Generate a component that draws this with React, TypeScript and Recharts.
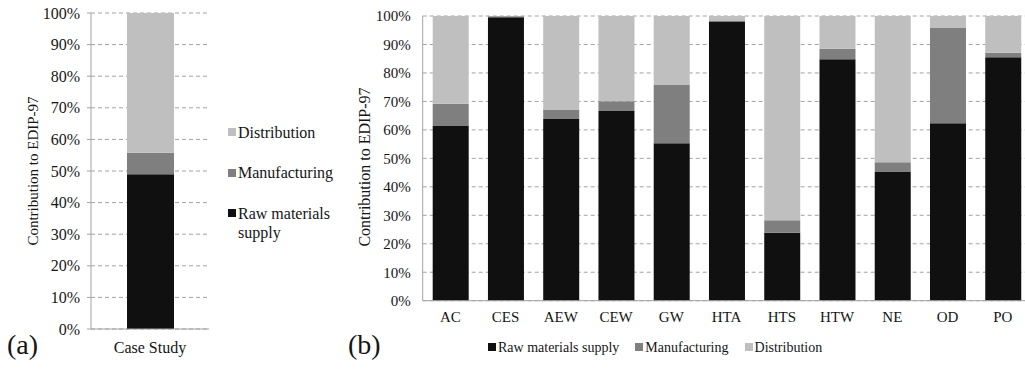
import React from "react";
import { BarChart, Bar, XAxis, YAxis, CartesianGrid, Legend } from "recharts";

const SERIES = ["Raw materials supply", "Manufacturing", "Distribution"];
const KEYS = ["raw", "manufacturing", "distribution"];
const COLORS = ["#101010", "#7f7f7f", "#bfbfbf"];
const Y_TICKS = [0, 10, 20, 30, 40, 50, 60, 70, 80, 90, 100];

// (a) case study
const caseCategories = ["Case Study"];
const caseRaw = [49.0];
const caseManufacturing = [6.8];
const caseDistribution = [44.2];

// (b) impact categories
const impactCategories = ["AC", "CES", "AEW", "CEW", "GW", "HTA", "HTS", "HTW", "NE", "OD", "PO"];
const impactRaw = [61.5, 99.6, 63.8, 66.6, 55.3, 97.9, 23.9, 84.8, 45.4, 62.3, 85.5];
const impactManufacturing = [7.7, 0.3, 3.4, 3.5, 20.6, 0.3, 4.4, 3.7, 3.2, 33.7, 1.6];
const impactDistribution = [30.8, 0.1, 32.8, 29.9, 24.1, 1.8, 71.7, 11.5, 51.4, 4.0, 12.9];

const FONT = "'Liberation Serif', 'Times New Roman', serif";
const AXIS_GRAY = "#a3a3a3";
const TEXT = "#151515";

const caseData = caseCategories.map((name, i) => ({
  name,
  raw: caseRaw[i],
  manufacturing: caseManufacturing[i],
  distribution: caseDistribution[i],
}));

const impactData = impactCategories.map((name, i) => ({
  name,
  raw: impactRaw[i],
  manufacturing: impactManufacturing[i],
  distribution: impactDistribution[i],
}));

const pct = (v: number) => `${v}%`;

const Swatch = ({ color }: { color: string }) => (
  <span
    style={{
      display: "inline-block",
      width: 8,
      height: 8,
      background: color,
      marginRight: 2,
      marginTop: 5.5,
      flex: "none",
    }}
  />
);

const VerticalLegend = () => (
  <div style={{ fontFamily: FONT, fontSize: 16, lineHeight: "19px", color: TEXT }}>
    {[2, 1, 0].map((k, i) => (
      <div key={k} style={{ display: "flex", alignItems: "flex-start", position: "absolute", top: i * 40.5, left: 0, width: 112 }}>
        <Swatch color={COLORS[k]} />
        <span style={{ width: 100 }}>{SERIES[k]}</span>
      </div>
    ))}
  </div>
);

const RowLegend = () => (
  <div style={{ display: "flex", fontFamily: FONT, fontSize: 14, lineHeight: "19px", color: TEXT, whiteSpace: "nowrap" }}>
    {[0, 1, 2].map((k) => (
      <div key={k} style={{ display: "flex", alignItems: "flex-start", marginRight: 16 }}>
        <Swatch color={COLORS[k]} />
        <span>{SERIES[k]}</span>
      </div>
    ))}
  </div>
);

const RotatedTitle = ({ x, y, size }: { x: number; y: number; size: number }) => (
  <div
    style={{
      position: "absolute",
      left: x,
      top: y,
      transform: "translate(-50%, -50%) rotate(-90deg)",
      fontFamily: FONT,
      fontSize: size,
      whiteSpace: "nowrap",
      color: TEXT,
    }}
  >
    Contribution to EDIP-97
  </div>
);

const PanelTag = ({ x, text }: { x: number; text: string }) => (
  <div
    style={{
      position: "absolute",
      left: x,
      top: 331,
      fontFamily: FONT,
      fontSize: 28,
      lineHeight: 1,
      color: TEXT,
    }}
  >
    {text}
  </div>
);

export default function App() {
  return (
    <div
      style={{
        position: "absolute",
        left: 0,
        top: 0,
        width: 1025,
        height: 371,
        overflow: "hidden",
        background: "#fff",
      }}
    >
      <div style={{ position: "absolute", left: 0, top: 0 }}>
        <BarChart width={340} height={371} data={caseData} margin={{ top: 13, right: 131, bottom: 12, left: 0 }}>
          <CartesianGrid vertical={false} stroke={AXIS_GRAY} strokeDasharray="4 3" />
          <XAxis
            dataKey="name"
            height={30}
            tickLine={false}
            tickMargin={6.6}
            axisLine={{ stroke: AXIS_GRAY }}
            tick={{ fontFamily: FONT, fontSize: 16, fill: TEXT }}
          />
          <YAxis
            width={91}
            domain={[0, 100]}
            ticks={Y_TICKS}
            tickFormatter={pct}
            tickSize={4}
            tickMargin={7}
            tickLine={{ stroke: AXIS_GRAY }}
            axisLine={{ stroke: AXIS_GRAY }}
            tick={{ fontFamily: FONT, fontSize: 16, fill: TEXT }}
          />
          <Legend
            layout="vertical"
            align="center"
            verticalAlign="middle"
            content={() => <VerticalLegend />}
            wrapperStyle={{ left: 228, top: 122.5, width: 112, height: 110 }}
          />
          {KEYS.map((k, i) => (
            <Bar key={k} dataKey={k} name={SERIES[i]} stackId="a" fill={COLORS[i]} barSize={47} isAnimationActive={false} />
          ))}
        </BarChart>
      </div>

      <div style={{ position: "absolute", left: 340, top: 0 }}>
        <BarChart width={700} height={371} data={impactData} margin={{ top: 16, right: 9.5, bottom: 40.3, left: 0 }}>
          <CartesianGrid vertical={false} stroke={AXIS_GRAY} strokeDasharray="4 3" />
          <XAxis
            dataKey="name"
            height={30}
            interval={0}
            tickLine={false}
            tickMargin={5}
            axisLine={{ stroke: AXIS_GRAY }}
            tick={{ fontFamily: FONT, fontSize: 15, fill: TEXT }}
          />
          <YAxis
            width={82.7}
            domain={[0, 100]}
            ticks={Y_TICKS}
            tickFormatter={pct}
            tickLine={false}
            tickSize={6}
            tickMargin={6}
            axisLine={{ stroke: AXIS_GRAY }}
            tick={{ fontFamily: FONT, fontSize: 15, fill: TEXT }}
          />
          <Legend
            layout="horizontal"
            align="center"
            verticalAlign="middle"
            content={() => <RowLegend />}
            wrapperStyle={{ left: 148, top: 337.5, width: 360, height: 20 }}
          />
          {KEYS.map((k, i) => (
            <Bar key={k} dataKey={k} name={SERIES[i]} stackId="b" fill={COLORS[i]} barSize={36} isAnimationActive={false} />
          ))}
        </BarChart>
      </div>

      <RotatedTitle x={33} y={171} size={15} />
      <RotatedTitle x={365} y={167} size={16} />
      <PanelTag x={7} text="(a)" />
      <PanelTag x={348} text="(b)" />
    </div>
  );
}
